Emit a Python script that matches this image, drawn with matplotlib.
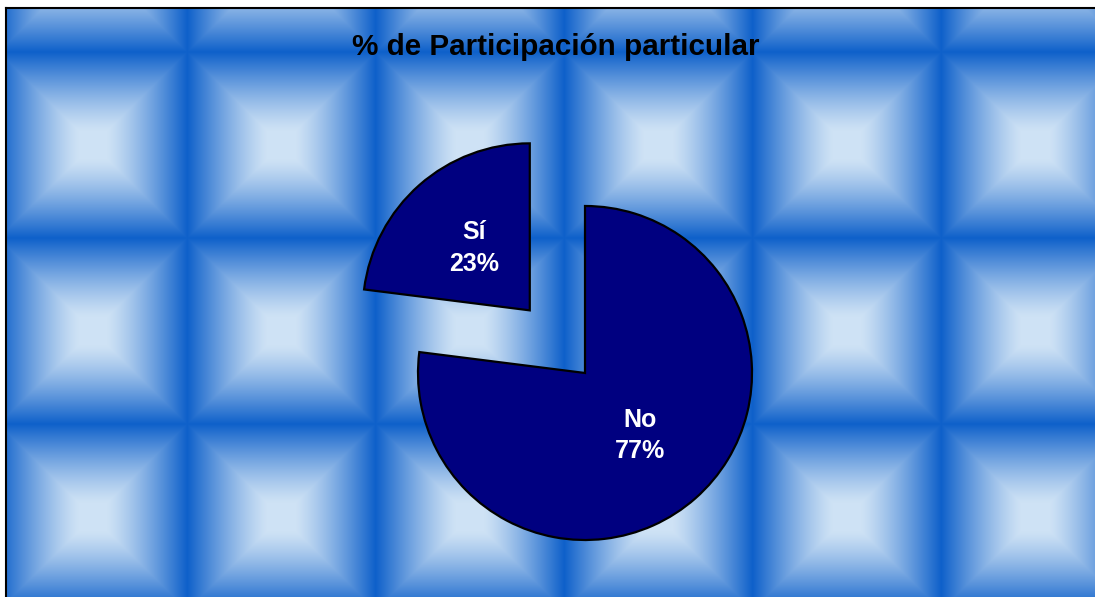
import numpy as np
import matplotlib
matplotlib.use("Agg")
import matplotlib.pyplot as plt

# chart data
title = "% de Participación particular"
categories = ["No", "Sí"]
shares = [77, 23]
explode = [0.0, 0.5]

W, H, DPI = 1095, 597, 100
plt.rcParams['font.family'] = ['Liberation Sans', 'DejaVu Sans']

fig = plt.figure(figsize=(W / DPI, H / DPI), dpi=DPI)

# tiled "pillow" background (chart area starts at x=6, y=8)
x0_px, y0_px = 6, 8
tile_w, tile_h = 188.5, 186.0
cx0, cy0 = 93.0, 145.0
xx, yy = np.meshgrid(np.arange(W) + 0.5, np.arange(H) + 0.5)
dx = np.abs(((xx - cx0 + tile_w / 2) % tile_w) - tile_w / 2) / (tile_w / 2)
dy = np.abs(((yy - cy0 + tile_h / 2) % tile_h) - tile_h / 2) / (tile_h / 2)
d = np.maximum(dx, dy)
g = np.clip((d - 0.15) / 0.85, 0, 1) ** 1.25
light = np.array([206, 226, 245]) / 255
dark = np.array([14, 96, 202]) / 255
img = light + (dark - light) * g[..., None]
mask = (xx < x0_px) | (yy < y0_px)
img[mask] = 1.0

bg = fig.add_axes([0, 0, 1, 1])
bg.imshow(img, extent=(0, W, H, 0), interpolation="bilinear")
bg.plot([x0_px, W], [y0_px, y0_px], color="black", lw=1.5)
bg.plot([x0_px, x0_px], [y0_px, H], color="black", lw=1.5)
bg.set_xlim(0, W)
bg.set_ylim(H, 0)
bg.axis("off")

fig.text(556 / W, 1 - 55 / H, title, ha="center", va="baseline",
         fontsize=21.3, fontweight="bold", color="black")

# pie axes: center (585, 373) px, radius 167 px
R, cx, cy = 167, 585, 373
span = 1.5
side = 2 * span * R
ax = fig.add_axes([(cx - side / 2) / W, (H - cy - side / 2) / H, side / W, side / H])
wedges, texts, autotexts = ax.pie(
    shares, explode=explode, colors=["#000080", "#000080"],
    startangle=90, counterclock=False, autopct="%1.0f%%", pctdistance=0.5,
    wedgeprops=dict(edgecolor="black", linewidth=1.6),
    textprops=dict(color="white", fontsize=18, fontweight="bold"))
for cat, t in zip(categories, autotexts):
    t.set_text(f"{cat}\n{t.get_text()}")
    t.set_linespacing(1.4)
ax.set_xlim(-span, span)
ax.set_ylim(-span, span)
ax.axis("off")

fig.savefig("out.png", dpi=DPI)
